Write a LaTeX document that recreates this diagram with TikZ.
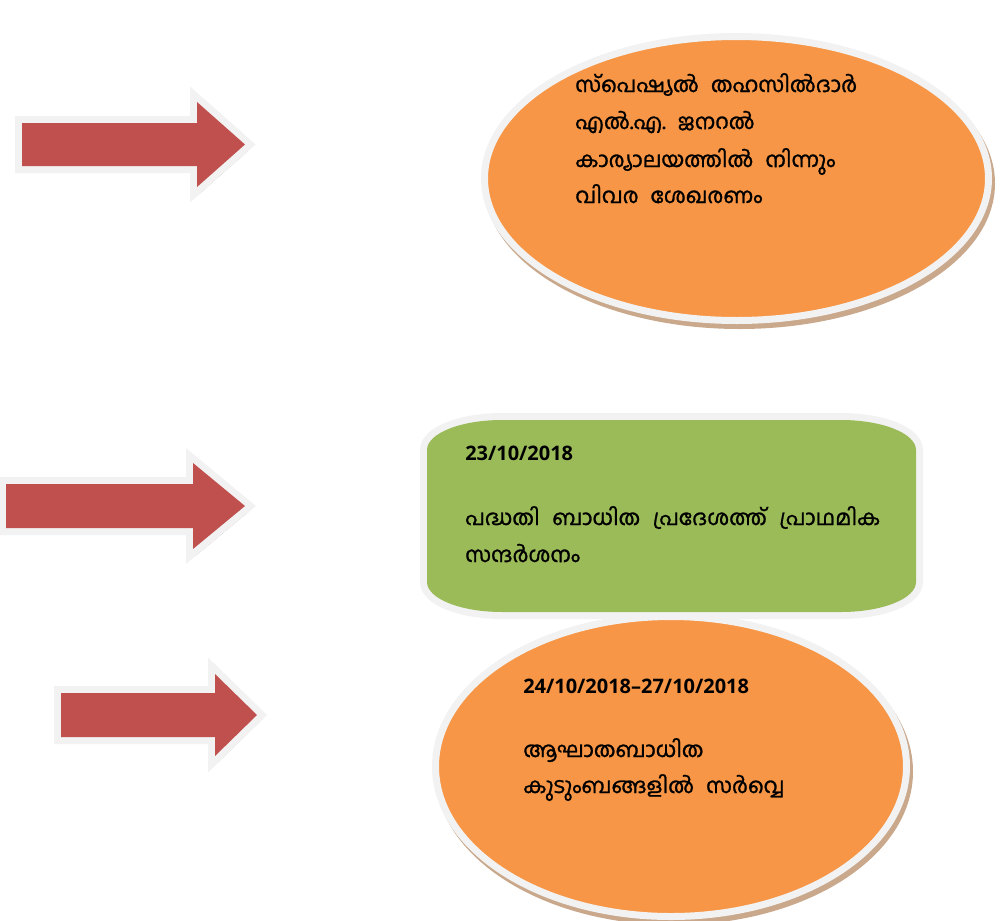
\documentclass[tikz,border=0pt]{standalone}
\usepackage{fontspec}
\newfontfamily\mlfont[Script=Malayalam, FakeBold=1.2]{Hind Kochi}
\newfontfamily\datefont{Open Sans}
\newcommand\wgap{\hspace{9pt}}
\definecolor{arrowred}{HTML}{C0504D}
\definecolor{rim}{HTML}{F2F2F2}
\definecolor{ashadow}{HTML}{B48C8A}
\definecolor{eshadow}{HTML}{C9A88C}
\definecolor{orangefill}{HTML}{F79646}
\definecolor{greenfill}{HTML}{9BBB59}
\usetikzlibrary{shapes.geometric}
\tikzset{
  mltext/.style={font=\mlfont\fontsize{16pt}{20pt}\selectfont, inner sep=0pt, anchor=base west, text=black},
  datetext/.style={font=\datefont\bfseries\fontsize{15pt}{18pt}\selectfont, inner sep=0pt, anchor=base west, text=black},
  oval/.style={ellipse, fill=orangefill, draw=rim, line width=5.25pt, inner sep=0pt, outer sep=0pt,
     preaction={fill=eshadow, draw=eshadow, transform canvas={shift={(3,5)}}}},
  rimline/.style={draw=rim, fill=rim, line width=10.5pt, line join=miter},
  pics/bigarrow/.style n args={6}{code={
     \path[rimline, preaction={fill=ashadow, draw=ashadow, transform canvas={shift={(3,6)}}}]
       (#1,#2-#3) -- (#4,#2-#3) -- (#4,#2-#5) -- (#6,#2) -- (#4,#2+#5) -- (#4,#2+#3) -- (#1,#2+#3) -- cycle;
     \fill[arrowred]
       (#1,#2-#3) -- (#4,#2-#3) -- (#4,#2-#5) -- (#6,#2) -- (#4,#2+#5) -- (#4,#2+#3) -- (#1,#2+#3) -- cycle;
  }}
}
\begin{document}
\begin{tikzpicture}[x=0.75pt,y=-0.75pt]
\useasboundingbox (0,0) rectangle (1000,921);
% arrows
\pic (a1) at (0,0) {bigarrow={22}{144.5}{21.5}{197}{42.5}{245}};
\pic (a2) at (0,0) {bigarrow={6}{506}{22}{193}{43}{245}};
\pic (a3) at (0,0) {bigarrow={61}{715}{22}{215}{41}{257}};
% ellipse 1
\node[oval, minimum width=378pt, minimum height=213pt] (e1) at (736.5,178.5) {};
\node[mltext] (t1a) at (575,92) {സ്പെഷ്യൽ\wgap തഹസിൽദാർ};
\node[mltext] (t1b) at (575,129) {എൽ.എ.\wgap ജനറൽ};
\node[mltext] (t1c) at (575,167) {കാര്യാലയത്തിൽ\wgap നിന്നും};
\node[mltext] (t1d) at (575,203) {വിവര\wgap ശേഖരണം};
% ellipse 2
\node[oval, minimum width=353.25pt, minimum height=225pt] (e2) at (671,766.5) {};
% green box
\path[rimline, line join=round]
  (427,450) .. controls (427,433.4) and (460.6,420) .. (502,420) -- (841,420)
  .. controls (882.4,420) and (916,433.4) .. (916,450) -- (916,582)
  .. controls (916,598.6) and (882.4,612) .. (841,612) -- (502,612)
  .. controls (460.6,612) and (427,598.6) .. (427,582) -- cycle;
\fill[greenfill]
  (427,450) .. controls (427,433.4) and (460.6,420) .. (502,420) -- (841,420)
  .. controls (882.4,420) and (916,433.4) .. (916,450) -- (916,582)
  .. controls (916,598.6) and (882.4,612) .. (841,612) -- (502,612)
  .. controls (460.6,612) and (427,598.6) .. (427,582) -- cycle;
\node[datetext] (d1) at (465,460) {23/10/2018};
\node[mltext] (t2a) at (465,525) {\makebox[311.25pt][s]{പദ്ധതി ബാധിത പ്രദേശത്ത് പ്രാഥമിക}};
\node[mltext] (t2b) at (465,562) {സന്ദർശനം};
% ellipse 2 text
\node[datetext] (d2) at (523,693) {24/10/2018–27/10/2018};
\node[mltext] (t3a) at (523,757) {ആഘാതബാധിത};
\node[mltext] (t3b) at (523,793) {കുടുംബങ്ങളിൽ\wgap സർവ്വെ};
\end{tikzpicture}
\end{document}
